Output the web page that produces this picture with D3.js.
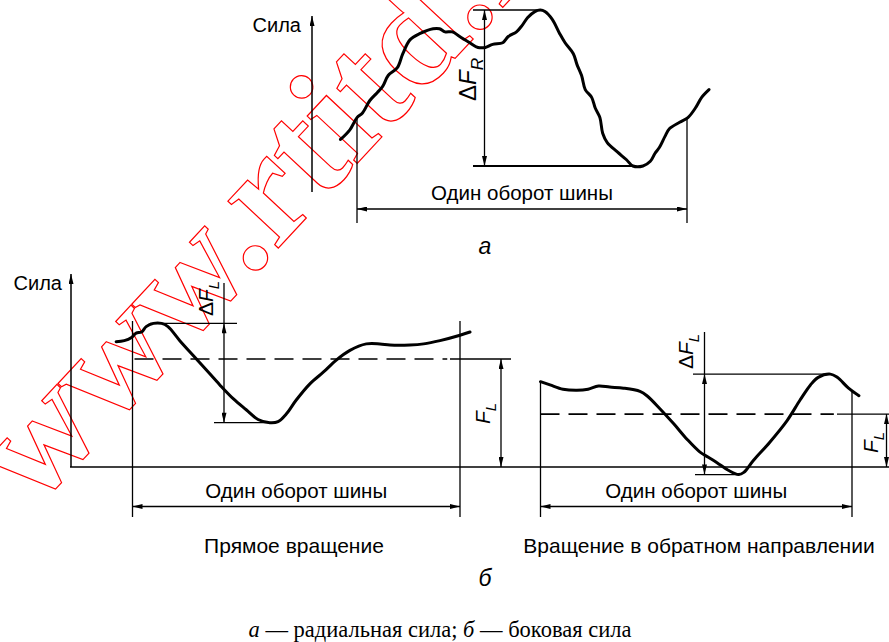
<!DOCTYPE html>
<html>
<head>
<meta charset="utf-8">
<script src="https://cdn.jsdelivr.net/npm/d3@7"></script>
<style>
  body { margin: 0; background: #fff; }
  text { font-family: "Liberation Sans", Arial, sans-serif; fill: #000; }
</style>
</head>
<body>
<script>
// Chart a: radial force over one revolution (degrees, force in % of dF_R)
var degA = [-18, -8, 0, 6, 14, 22, 28, 34, 44, 50, 58, 69, 83, 90, 96, 104, 112, 123, 132, 140,
  148, 159, 165, 174, 180, 186, 194, 200, 205, 213, 221, 227, 236, 240, 245, 249, 256, 260, 265, 268,
  273, 284, 294, 301, 312, 320, 325, 330, 336, 341, 352, 361, 369, 376, 384];
var forceA = [17, 23, 31, 34, 42, 47, 51, 58, 63, 72, 81, 85, 88, 88, 86, 86, 83, 79, 76, 76,
  78, 79, 83, 86, 90, 95, 99, 100, 99, 94, 85, 79, 72, 65, 58, 49, 44, 37, 31, 21,
  15, 9, 4, 0, 0, 3, 8, 12, 19, 24, 28, 31, 37, 44, 49];

// Chart b, forward rotation
var degL = [-18, -9, -1, 4, 10, 15, 23, 32, 39, 52, 67, 81, 96, 111, 125, 138, 151, 160, 169, 180,
  195, 210, 224, 239, 257, 272, 283, 305, 320, 338, 360, 371];
var forceL = [116, 117, 120, 124, 125, 130, 133, 133, 130, 117, 103, 90, 76, 63, 53, 44, 41, 42, 49, 62,
  77, 88, 99, 108, 114, 114, 113, 113, 114, 117, 122, 125];
var meanL = 100;

// Chart b, reverse rotation
var degR = [0, 11, 26, 42, 55, 67, 80, 96, 115, 123, 138, 154, 169, 184, 194, 204, 217, 229, 235, 246,
  265, 285, 300, 312, 321, 335, 343, 356, 368];
var forceR = [79, 76, 72, 71, 72, 75, 74, 73, 70, 66, 54, 40, 26, 14, 9, 4, -3, -7, -5, 6,
  23, 43, 62, 76, 83, 86, 83, 73, 66];
var meanR = 49;

var revLabel = "Один оборот шины";
var axisLabel = "Сила";

var svg = d3.select("body").append("svg")
  .attr("width", 889)
  .attr("height", 642);

// arrow head marker
svg.append("defs").append("marker")
  .attr("id", "arr")
  .attr("viewBox", "0 0 12 6")
  .attr("refX", 12).attr("refY", 3)
  .attr("markerWidth", 12).attr("markerHeight", 5)
  .attr("markerUnits", "userSpaceOnUse")
  .attr("orient", "auto-start-reverse")
  .append("path").attr("d", "M0,0L12,3L0,6Z").attr("fill", "#000");

// scales
var xA = d3.scaleLinear().domain([0, 360]).range([357, 687]);
var yA = d3.scaleLinear().domain([0, 100]).range([166, 10]);
var xL = d3.scaleLinear().domain([0, 360]).range([132.5, 460]);
var xR = d3.scaleLinear().domain([0, 360]).range([540.5, 852]);
var yB = d3.scaleLinear().domain([0, 100]).range([467, 359]);

function interp(degs, vals, d) {
  var i = d3.bisectLeft(degs, d);
  if (i <= 0) return vals[0];
  if (i >= degs.length) return vals[vals.length - 1];
  var t = (d - degs[i - 1]) / (degs[i] - degs[i - 1]);
  return vals[i - 1] + t * (vals[i] - vals[i - 1]);
}

function line(x1, y1, x2, y2, w, opts) {
  var l = svg.append("line")
    .attr("x1", x1).attr("y1", y1).attr("x2", x2).attr("y2", y2)
    .attr("stroke", "#000").attr("stroke-width", w || 1.3);
  opts = opts || {};
  if (opts.start) l.attr("marker-start", "url(#arr)");
  if (opts.end) l.attr("marker-end", "url(#arr)");
  if (opts.dash) l.attr("stroke-dasharray", opts.dash);
  return l;
}

function curve(degs, vals, x, y) {
  var pts = degs.map((d, i) => [d, vals[i]]);
  svg.append("path")
    .attr("d", d3.line().x(d => x(d[0])).y(d => y(d[1])).curve(d3.curveCatmullRom.alpha(0.5))(pts))
    .attr("fill", "none")
    .attr("stroke", "#000")
    .attr("stroke-width", 3)
    .attr("stroke-linejoin", "round")
    .attr("stroke-linecap", "round");
}

function rotLabel(x, y, size, main, sub) {
  var t = svg.append("text")
    .attr("transform", `translate(${x},${y}) rotate(-90)`)
    .attr("font-size", size);
  if (main.indexOf("Δ") === 0) {
    t.append("tspan").text("Δ");
    main = main.slice(1);
  }
  t.append("tspan").attr("font-style", "italic").text(main);
  t.append("tspan").attr("font-style", "italic").attr("font-size", size * 0.72)
    .attr("dy", size * 0.28).text(sub);
}

// watermark (drawn first, under the drawing)
svg.append("text")
  .attr("transform", "translate(34,510) rotate(-47)")
  .attr("font-size", 150)
  .attr("font-weight", "bold")
  .style("font-family", "'Liberation Serif', 'Times New Roman', serif")
  .style("fill", "none")
  .attr("stroke", "#ff0000")
  .attr("stroke-width", 1.2)
  .text("www.rtitd.ru");

// ---------- chart a ----------
line(312, 192, 312, 16, 1.5, {end: true});
svg.append("text").attr("x", 301).attr("y", 32).attr("font-size", 20)
  .attr("text-anchor", "end").text(axisLabel);

var maxA = d3.max(forceA), minA = d3.min(forceA);
line(xA(0), yA(interp(degA, forceA, 0)) - 1, xA(0), 223);
line(xA(360), yA(interp(degA, forceA, 360)) - 1, xA(360), 223);
line(xA(0), 209, xA(360), 209, 1.3, {start: true, end: true});
svg.append("text").attr("x", (xA(0) + xA(360)) / 2).attr("y", 200).attr("font-size", 20.5)
  .attr("text-anchor", "middle").text(revLabel);

line(473, yA(maxA), 537, yA(maxA), 1.3);
line(473, yA(minA), 635, yA(minA), 2);
line(484.5, yA(maxA), 484.5, yA(minA), 1.3, {start: true, end: true});
rotLabel(476, 101, 24, "ΔF", "R");

curve(degA, forceA, xA, yA);

svg.append("text").attr("x", 485).attr("y", 254).attr("font-size", 23)
  .attr("font-style", "italic").attr("text-anchor", "middle").text("а");

// ---------- chart b ----------
line(71, 467, 71, 274, 1.5, {end: true});
line(70, 467, 889, 467, 1.5);
svg.append("text").attr("x", 62).attr("y", 290).attr("font-size", 20)
  .attr("text-anchor", "end").text(axisLabel);

// forward rotation
var maxL = d3.max(forceL), minL = d3.min(forceL);
line(xL(0), 321, xL(0), 517);
line(xL(360), 321, xL(360), 517);
line(xL(0), 506.5, xL(360), 506.5, 1.3, {start: true, end: true});
svg.append("text").attr("x", (xL(0) + xL(360)) / 2).attr("y", 498).attr("font-size", 20.5)
  .attr("text-anchor", "middle").text(revLabel);

line(xL(0) + 2, yB(meanL), xL(346), yB(meanL), 1.6, {dash: "19,9"});
line(450, yB(meanL), 511, yB(meanL), 1.3);
line(501, yB(meanL), 501, yB(0), 1.3, {start: true, end: true});
rotLabel(490, 424, 21, "F", "L");

line(150, yB(maxL), 237, yB(maxL), 1.3);
line(214, yB(minL), 275, yB(minL), 1.3);
line(224, 283, 224, yB(maxL), 1.3);
line(224, yB(maxL), 224, yB(minL), 1.3, {start: true, end: true});
rotLabel(213, 316, 21, "ΔF", "L");

curve(degL, forceL, xL, yB);

// reverse rotation
var maxR = d3.max(forceR), minR = d3.min(forceR);
line(xR(0), yB(forceR[0]), xR(0), 517);
line(xR(360), yB(interp(degR, forceR, 360)), xR(360), 517);
line(xR(0), 506.5, xR(360), 506.5, 1.3, {start: true, end: true});
svg.append("text").attr("x", (xR(0) + xR(360)) / 2).attr("y", 498).attr("font-size", 20.5)
  .attr("text-anchor", "middle").text(revLabel);

line(xR(0), yB(meanR), xR(339), yB(meanR), 1.6, {dash: "19,9"});
line(837, yB(meanR), 889, yB(meanR), 1.3);
line(886.5, yB(meanR), 886.5, yB(0), 1.3, {start: true, end: true});
rotLabel(878, 453, 21, "F", "L");

line(693, yB(maxR), 830, yB(maxR), 1.3);
line(695, yB(minR), 740, yB(minR), 1.3);
line(704.5, 332, 704.5, yB(maxR), 1.3);
line(704.5, yB(maxR), 704.5, yB(minR), 1.3, {start: true, end: true});
rotLabel(693, 369, 21, "ΔF", "L");

curve(degR, forceR, xR, yB);

svg.append("text").attr("x", 294).attr("y", 553).attr("font-size", 21)
  .attr("text-anchor", "middle").text("Прямое вращение");
svg.append("text").attr("x", 699).attr("y", 553).attr("font-size", 21)
  .attr("text-anchor", "middle").text("Вращение в обратном направлении");
svg.append("text").attr("x", 485).attr("y", 586).attr("font-size", 23)
  .attr("font-style", "italic").attr("text-anchor", "middle").text("б");

// caption
var cap = svg.append("text").attr("x", 440).attr("y", 637).attr("font-size", 22.5)
  .attr("text-anchor", "middle")
  .style("font-family", "'Liberation Serif', 'Times New Roman', serif");
cap.append("tspan").attr("font-style", "italic").text("а");
cap.append("tspan").text(" — радиальная сила; ");
cap.append("tspan").attr("font-style", "italic").text("б");
cap.append("tspan").text(" — боковая сила");
</script>
</body>
</html>
